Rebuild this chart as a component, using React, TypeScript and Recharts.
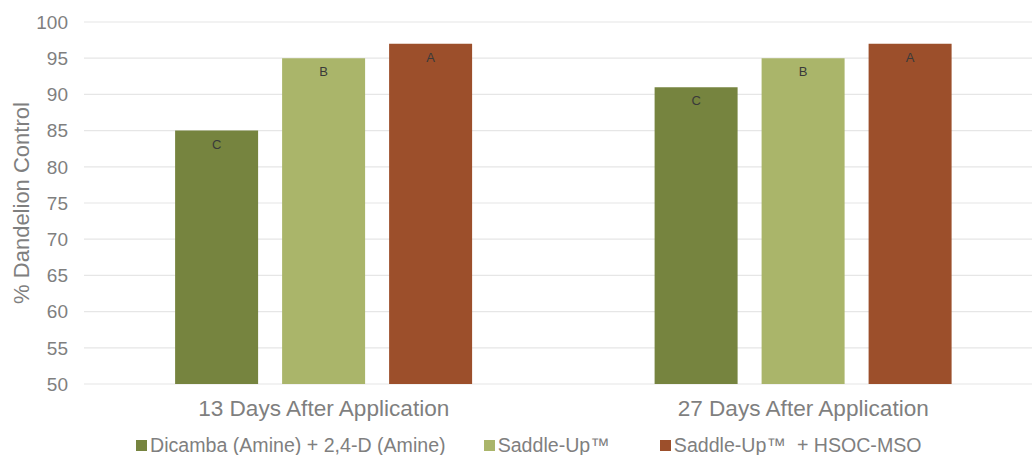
import React from 'react';
import {
  BarChart,
  Bar,
  XAxis,
  YAxis,
  CartesianGrid,
  Legend,
  LabelList,
} from 'recharts';

const categories = ['13 Days After Application', '27 Days After Application'];
const dicambaValues = [85, 91];
const saddleUpValues = [95, 95];
const saddleUpMsoValues = [97, 97];
const dicambaLetters = ['C', 'C'];
const saddleUpLetters = ['B', 'B'];
const saddleUpMsoLetters = ['A', 'A'];
const yTicks = [50, 55, 60, 65, 70, 75, 80, 85, 90, 95, 100];

const SERIES = [
  { key: 'dicamba', letter: 'dicambaLetter', name: 'Dicamba (Amine) + 2,4-D (Amine)', color: '#76843f' },
  { key: 'saddleUp', letter: 'saddleUpLetter', name: 'Saddle-Up™', color: '#aab56a' },
  { key: 'saddleUpMso', letter: 'saddleUpMsoLetter', name: 'Saddle-Up™  + HSOC-MSO', color: '#9c4f2b' },
];

const data = categories.map((name, i) => ({
  name,
  dicamba: dicambaValues[i],
  saddleUp: saddleUpValues[i],
  saddleUpMso: saddleUpMsoValues[i],
  dicambaLetter: dicambaLetters[i],
  saddleUpLetter: saddleUpLetters[i],
  saddleUpMsoLetter: saddleUpMsoLetters[i],
}));

const FONT = '"Liberation Sans", Arial, sans-serif';
const GREY = '#7f7f7f';
// Excel spreads its legend entries unevenly, so gaps are per item
const legendGaps = [136, 38, 50];

function renderLegend() {
  return (
    <div
      style={{
        display: 'flex',
        height: 30,
        paddingTop: 11,
        boxSizing: 'border-box',
        fontFamily: FONT,
        fontSize: 19.6,
        lineHeight: '19px',
        color: GREY,
      }}
    >
      {SERIES.map((s, i) => (
        <div key={s.key} style={{ display: 'flex', alignItems: 'center', marginLeft: legendGaps[i] }}>
          <span style={{ width: 11, height: 11, background: s.color, marginRight: 3 }} />
          <span style={{ whiteSpace: 'pre' }}>{s.name}</span>
        </div>
      ))}
    </div>
  );
}

export default function App() {
  return (
    <div
      style={{
        position: 'absolute',
        left: 0,
        top: 0,
        width: 1032,
        height: 455,
        overflow: 'hidden',
        background: '#ffffff',
      }}
    >
      <BarChart
        width={1043}
        height={455}
        data={data}
        margin={{ top: 22, right: 0, left: 0, bottom: 0 }}
        barCategoryGap="19%"
        barGap={24}
      >
        <CartesianGrid vertical={false} stroke="#e6e6e6" strokeWidth={1.2} />
        <XAxis
          dataKey="name"
          height={41}
          axisLine={false}
          tickLine={false}
          tickSize={0}
          tickMargin={16}
          tick={{ fill: GREY, fontSize: 22.6, fontFamily: FONT }}
        />
        <YAxis
          width={84}
          domain={[50, 100]}
          ticks={yTicks}
          interval={0}
          axisLine={false}
          tickLine={false}
          tickSize={0}
          tickMargin={16}
          tick={{ fill: GREY, fontSize: 19, fontFamily: FONT }}
          label={{
            content: ({ viewBox }: any) => {
              const cy = viewBox.y + viewBox.height / 2;
              return (
                <text
                  x={21}
                  y={cy}
                  transform={`rotate(-90 21 ${cy})`}
                  textAnchor="middle"
                  dominantBaseline="central"
                  fill={GREY}
                  fontSize={22}
                  fontFamily={FONT}
                >
                  % Dandelion Control
                </text>
              );
            },
          }}
        />
        <Legend verticalAlign="bottom" align="left" content={renderLegend} wrapperStyle={{ left: 0 }} />
        {SERIES.map((s) => (
          <Bar key={s.key} dataKey={s.key} name={s.name} fill={s.color} isAnimationActive={false}>
            <LabelList
              dataKey={s.letter}
              position="insideTop"
              offset={9}
              fill="#3a3a3a"
              fontSize={13}
              fontFamily={FONT}
            />
          </Bar>
        ))}
      </BarChart>
    </div>
  );
}
